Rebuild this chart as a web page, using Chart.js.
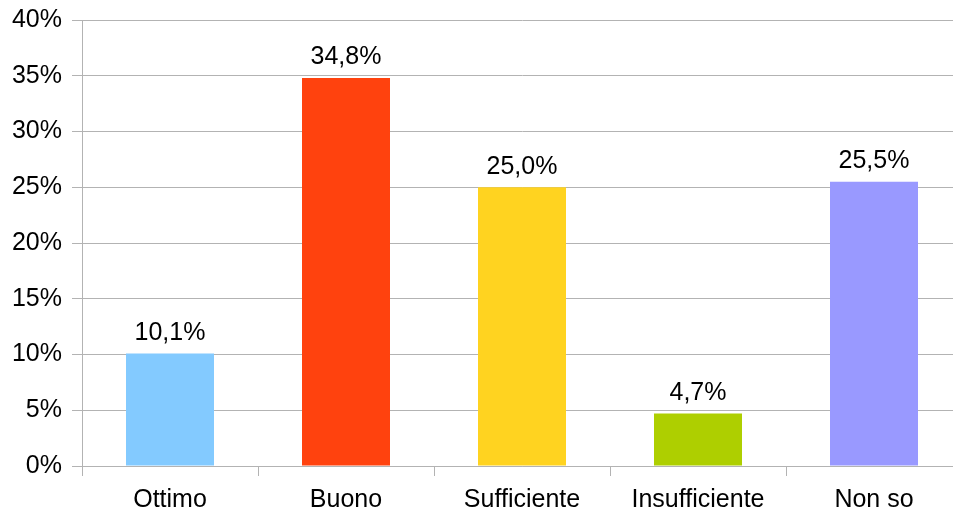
<!DOCTYPE html>
<html lang="it">
<head>
  <meta charset="UTF-8">
  <title>Grafico</title>
  <script src="https://cdn.jsdelivr.net/npm/chart.js"></script>
  <style>
    body { margin: 0; overflow: hidden; background: #fff; }
    .box { width: 962px; height: 516px; }
  </style>
</head>
<body>
  <div class="box">
    <canvas id="grafico" width="962" height="516"></canvas>
  </div>

<script>
  const categorie = ['Ottimo', 'Buono', 'Sufficiente', 'Insufficiente', 'Non so'];
  const valori = [10.1, 34.8, 25.0, 4.7, 25.5];
  const colori = ['#83caff', '#ff420e', '#ffd320', '#aecf00', '#9999ff'];
  const tickY = [0, 5, 10, 15, 20, 25, 30, 35, 40];

  const grigio = '#b3b3b3';
  const font = { family: 'Liberation Sans', size: 25 };

  function formato(v) {
    return v.toFixed(1).replace('.', ',') + '%';
  }

  // etichette sopra le barre
  const etichette = {
    id: 'etichette',
    afterDatasetsDraw(chart) {
      const c = chart.ctx;
      const meta = chart.getDatasetMeta(0);
      c.save();
      c.font = '25px "Liberation Sans"';
      c.fillStyle = '#000';
      c.textAlign = 'center';
      c.textBaseline = 'bottom';
      meta.data.forEach((bar, i) => {
        c.fillText(formato(valori[i]), bar.x, bar.y - 8);
      });
      c.restore();
    }
  };

  new Chart(document.getElementById('grafico'), {
    type: 'bar',
    data: {
      labels: categorie,
      datasets: [{
        data: valori,
        backgroundColor: colori,
        barPercentage: 0.5,
        categoryPercentage: 1
      }]
    },
    options: {
      responsive: false,
      animation: false,
      layout: { padding: { top: 20, right: 0, bottom: 0, left: 0 } },
      plugins: {
        legend: { display: false },
        tooltip: { enabled: false }
      },
      scales: {
        x: {
          grid: { offset: true, drawOnChartArea: false, tickLength: 10, color: grigio },
          border: { color: grigio },
          ticks: { color: '#000', font: font, padding: 9 },
          afterFit(s) { s.height = 50; s.paddingLeft = 0; s.paddingRight = 0; }
        },
        y: {
          min: 0,
          max: 40,
          afterBuildTicks(s) { s.ticks = tickY.map(v => ({ value: v })); },
          grid: { color: grigio, tickLength: 10 },
          border: { color: grigio },
          ticks: { color: '#000', font: font, padding: 10, callback: v => v + '%' },
          afterFit(s) { s.width = 82; s.paddingTop = 0; s.paddingBottom = 0; }
        }
      }
    },
    plugins: [etichette]
  });
</script>
</body>
</html>
